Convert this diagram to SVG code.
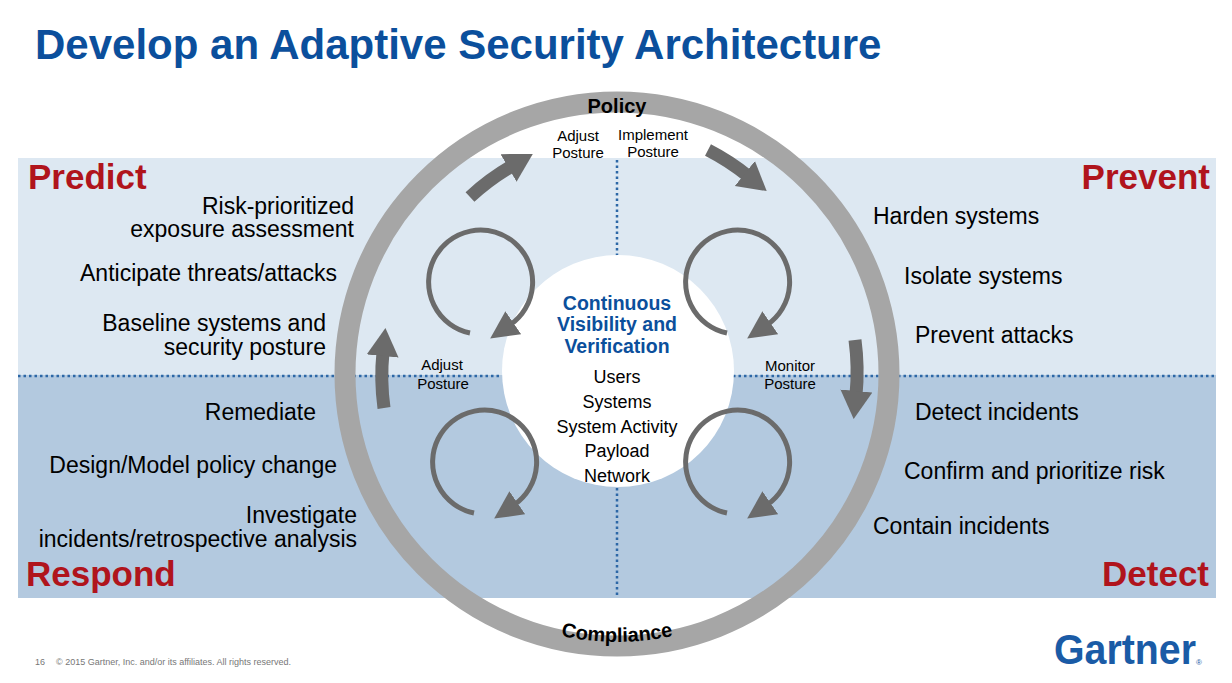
<svg xmlns="http://www.w3.org/2000/svg" width="1232" height="683" viewBox="0 0 1232 683">
<style>
text{font-family:"Liberation Sans",Arial,sans-serif}
.item{font-size:23px;fill:#000}
.l{text-anchor:end}
.phase{font-size:35px;font-weight:bold;fill:#b0141c}
.small{font-size:15px;fill:#000;text-anchor:middle}
.ctr{font-size:18px;fill:#000;text-anchor:middle}
.cb{font-size:19.5px;font-weight:bold;fill:#0b4f9c;text-anchor:middle}
.dot{stroke:#2c67a6;stroke-width:2.5;stroke-dasharray:2.5 3;fill:none}
.loop{stroke:#6b6b6b;stroke-width:5;fill:none}
.big{stroke:#6b6b6b;stroke-width:13;fill:none}
</style>
<defs>
<marker id="ah" markerUnits="userSpaceOnUse" markerWidth="32" markerHeight="30" refX="4" refY="14" orient="auto"><path d="M0,0 L28,14 L0,28 Z" fill="#6b6b6b"/></marker>
<marker id="ahb" markerUnits="userSpaceOnUse" markerWidth="34" markerHeight="36" refX="4" refY="16" orient="auto"><path d="M0,0 L28,16 L0,32 Z" fill="#6b6b6b"/></marker>
<path id="loopp" d="M -18,50 A 52 52 0 1 1 22,42" class="loop" marker-end="url(#ah)"/>
</defs>
<rect width="1232" height="683" fill="#fff"/>
<g id="bands">
<rect x="18" y="158" width="1198" height="217" fill="#dde8f2"/>
<rect x="18" y="375" width="1198" height="223" fill="#b3c9df"/>
</g>
<text x="35" y="59" font-size="42" font-weight="bold" fill="#0b4f9c">Develop an Adaptive Security Architecture</text>
<g id="dotted">
<line class="dot" x1="18" y1="376" x2="502" y2="376"/>
<line class="dot" x1="733" y1="376" x2="1216" y2="376"/>
<line class="dot" x1="617" y1="160" x2="617" y2="256"/>
<line class="dot" x1="617" y1="488" x2="617" y2="598"/>
</g>
<g id="ring">
<circle cx="617" cy="374" r="272" fill="none" stroke="#a6a6a6" stroke-width="21"/>
<text x="617" y="113" font-size="20" font-weight="bold" text-anchor="middle" fill="#000">Policy</text>
<path id="cpath" d="M 349,374 A 268 268 0 0 0 885,374" fill="none"/>
<text font-size="20" font-weight="bold" fill="#000"><textPath href="#cpath" startOffset="50%" text-anchor="middle">Compliance</textPath></text>
</g>
<g id="center">
<circle cx="618" cy="371" r="116" fill="#fff"/>
<text class="cb" x="617" y="310">Continuous</text>
<text class="cb" x="617" y="331">Visibility and</text>
<text class="cb" x="617" y="353">Verification</text>
<text class="ctr" x="617" y="383">Users</text>
<text class="ctr" x="617" y="408">Systems</text>
<text class="ctr" x="617" y="433">System Activity</text>
<text class="ctr" x="617" y="457">Payload</text>
<text class="ctr" x="617" y="482">Network</text>
</g>
<g id="connectors">
<use href="#loopp" transform="translate(488,283)"/>
<use href="#loopp" transform="translate(745,283)"/>
<use href="#loopp" transform="translate(492,463)"/>
<use href="#loopp" transform="translate(745,463)"/>
<path class="big" d="M 470,197 A 233 233 0 0 1 512,166" marker-end="url(#ahb)"/>
<path class="big" d="M 708,150 A 233 233 0 0 1 748,176" marker-end="url(#ahb)"/>
<path class="big" d="M 855,340 A 238 238 0 0 1 856,395" marker-end="url(#ahb)"/>
<path class="big" d="M 384,408 A 234 234 0 0 1 383,352" marker-end="url(#ahb)"/>
</g>
<g id="labels">
<text class="small" x="578" y="141">Adjust</text>
<text class="small" x="578" y="158">Posture</text>
<text class="small" x="653" y="140">Implement</text>
<text class="small" x="653" y="157">Posture</text>
<text class="small" x="442" y="370">Adjust</text>
<text class="small" x="443" y="389">Posture</text>
<text class="small" x="790" y="371">Monitor</text>
<text class="small" x="790" y="389">Posture</text>
</g>
<g id="predict">
<text class="phase" x="28" y="189">Predict</text>
<text class="item l" x="354" y="214">Risk-prioritized</text>
<text class="item l" x="354" y="237">exposure assessment</text>
<text class="item l" x="337" y="281">Anticipate threats/attacks</text>
<text class="item l" x="326" y="331">Baseline systems and</text>
<text class="item l" x="326" y="355">security posture</text>
</g>
<g id="respond">
<text class="phase" x="26" y="586">Respond</text>
<text class="item l" x="316" y="420">Remediate</text>
<text class="item l" x="337" y="473">Design/Model policy change</text>
<text class="item l" x="357" y="523">Investigate</text>
<text class="item l" x="357" y="547">incidents/retrospective analysis</text>
</g>
<g id="prevent">
<text class="phase" x="1210" y="189" text-anchor="end">Prevent</text>
<text class="item" x="873" y="224">Harden systems</text>
<text class="item" x="904" y="284">Isolate systems</text>
<text class="item" x="915" y="343">Prevent attacks</text>
</g>
<g id="detect">
<text class="phase" x="1209" y="586" text-anchor="end">Detect</text>
<text class="item" x="915" y="420">Detect incidents</text>
<text class="item" x="904" y="479">Confirm and prioritize risk</text>
<text class="item" x="873" y="534">Contain incidents</text>
</g>
<g id="footer">
<text x="35" y="665" font-size="9" fill="#777">16</text>
<text x="56" y="665" font-size="9" fill="#777">© 2015 Gartner, Inc. and/or its affiliates. All rights reserved.</text>
<text x="1054" y="664" font-size="42" font-weight="bold" fill="#1a5ba6" textLength="142" lengthAdjust="spacingAndGlyphs">Gartner</text>
<text x="1196" y="665" font-size="8" fill="#1a5ba6">®</text>
</g>
</svg>
